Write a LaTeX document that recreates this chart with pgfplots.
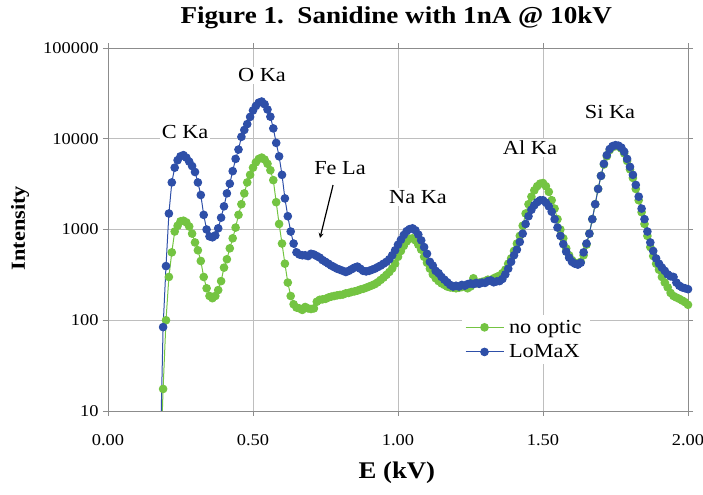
\documentclass[border=0pt]{standalone}
\usepackage{fontspec}
\setmainfont{Liberation Serif}[FakeStretch=1.12]
\usepackage{pgfplots}
\pgfplotsset{compat=1.18}
\definecolor{loblue}{RGB}{46,79,168}
\definecolor{nogreen}{RGB}{116,196,66}
\definecolor{gridgray}{RGB}{190,190,190}
\definecolor{axgray}{RGB}{140,140,140}
\newcommand{\fs}[1]{\fontsize{#1}{#1}\selectfont}
\begin{document}
\begin{tikzpicture}
\path[use as bounding box] (0,0) rectangle (703bp,495bp);
\begin{axis}[
    at={(108bp,84bp)}, anchor=south west,
    scale only axis,
    width=580bp, height=363bp,
    xmin=0, xmax=2, ymode=log, ymin=10, ymax=100000,
    xtick={0,0.5,1,1.5,2},
    xticklabels={0.00,0.50,1.00,1.50,2.00},
    ytick={10,100,1000,10000,100000},
    yticklabels={10,100,1000,10000,100000},
    yminorticks=false,
    tick align=outside,
    major tick length=5bp,
    tick style={axgray, line width=0.8bp},
    axis line style={axgray, line width=0.8bp},
    grid=major,
    major grid style={gridgray, line width=0.8bp},
    ticklabel style={font=\fs{16.5}},
    xticklabel style={yshift=-15bp},
    yticklabel style={xshift=-1bp},
    title={Figure 1.\ \ Sanidine with 1nA @ 10kV},
    title style={at={(axis description cs:0.497,1.067)}, anchor=center, font=\bfseries\fs{24.3}},
    xlabel={E (kV)},
    ylabel={Intensity},
    every axis x label/.style={at={(axis description cs:0.498,-0.17)}, anchor=center, font=\bfseries\fs{24}},
    every axis y label/.style={at={(axis description cs:-0.1517,0.504)}, rotate=90, anchor=center, font=\bfseries\fs{20}},
    legend style={at={(axis description cs:0.61,0.265)}, anchor=north west, draw=none, fill=white,
        font=\fs{20}, row sep=6bp, inner sep=3bp, nodes={inner xsep=5bp}},
    legend cell align=left,
    legend image code/.code={\draw[mark repeat=2,mark phase=2] plot coordinates {(0bp,0bp)(19bp,0bp)(38bp,0bp)};},
]
\addplot[color=nogreen, line width=1bp, mark=*, mark size=3.8bp, mark options={fill=nogreen, draw=nogreen}] coordinates {
(0.18,2) (0.19,17.5) (0.20,100) (0.21,300) (0.22,560) (0.23,950) (0.24,1100) (0.25,1230) (0.26,1250) (0.27,1200)
(0.28,1080) (0.29,900) (0.30,720) (0.31,590) (0.32,450) (0.33,300) (0.34,225) (0.35,185) (0.36,175) (0.37,185)
(0.38,215) (0.39,270) (0.40,380) (0.41,470) (0.42,620) (0.43,800) (0.44,1050) (0.45,1450) (0.46,1900) (0.47,2500)
(0.48,3300) (0.49,4000) (0.50,4800) (0.51,5500) (0.52,6000) (0.53,6200) (0.54,5900) (0.55,5300) (0.56,4500) (0.57,3500)
(0.58,2000) (0.59,1150) (0.60,700) (0.61,420) (0.62,260) (0.63,185) (0.64,150) (0.65,138) (0.66,135) (0.67,130)
(0.68,140) (0.69,135) (0.70,133) (0.71,135) (0.72,160) (0.73,168) (0.74,170) (0.75,172) (0.76,178) (0.77,182)
(0.78,185) (0.79,188) (0.80,190) (0.81,192) (0.82,198) (0.83,200) (0.84,205) (0.85,208) (0.86,212) (0.87,218)
(0.88,222) (0.89,228) (0.90,235) (0.91,242) (0.92,250) (0.93,262) (0.94,278) (0.95,295) (0.96,316) (0.97,340)
(0.98,372) (0.99,420) (1.00,500) (1.01,580) (1.02,660) (1.03,740) (1.04,790) (1.05,800) (1.06,760) (1.07,680)
(1.08,600) (1.09,500) (1.10,430) (1.11,370) (1.12,320) (1.13,290) (1.14,270) (1.15,255) (1.16,245) (1.17,235)
(1.18,230) (1.19,228) (1.20,225) (1.21,228) (1.22,232) (1.23,238) (1.24,225) (1.25,235) (1.26,290) (1.27,255)
(1.28,260) (1.29,265) (1.30,270) (1.31,280) (1.32,275) (1.33,290) (1.34,300) (1.35,310) (1.36,330) (1.37,360)
(1.38,420) (1.39,480) (1.40,580) (1.41,700) (1.42,850) (1.43,1100) (1.44,1500) (1.45,1900) (1.46,2300) (1.47,2700)
(1.48,3000) (1.49,3200) (1.50,3250) (1.51,3000) (1.52,2600) (1.53,2100) (1.54,1700) (1.55,1300) (1.56,1000) (1.57,800)
(1.58,620) (1.59,520) (1.60,460) (1.61,430) (1.62,420) (1.63,440) (1.64,520) (1.65,680) (1.66,900) (1.67,1300)
(1.68,1900) (1.69,2800) (1.70,3900) (1.71,5200) (1.72,6400) (1.73,7500) (1.74,8100) (1.75,8300) (1.76,8200) (1.77,7800)
(1.78,6900) (1.79,5700) (1.80,4600) (1.81,3700) (1.82,2800) (1.83,2100) (1.84,1550) (1.85,1150) (1.86,850) (1.87,640)
(1.88,510) (1.89,420) (1.90,360) (1.91,300) (1.92,260) (1.93,230) (1.94,200) (1.95,185) (1.96,178) (1.97,172)
(1.98,165) (1.99,158) (2.00,148)
};
\addlegendentry{no optic}
\addplot[color=loblue, line width=1bp, mark=*, mark size=3.8bp, mark options={fill=loblue, draw=loblue}] coordinates {
(0.18,3) (0.19,84) (0.20,395) (0.21,1500) (0.22,3300) (0.23,4800) (0.24,5800) (0.25,6400) (0.26,6600) (0.27,6200)
(0.28,5600) (0.29,5000) (0.30,4300) (0.31,3300) (0.32,2400) (0.33,1450) (0.34,1000) (0.35,840) (0.36,820) (0.37,860)
(0.38,1030) (0.39,1350) (0.40,1800) (0.41,2500) (0.42,3200) (0.43,4400) (0.44,6000) (0.45,7600) (0.46,10500) (0.47,12500)
(0.48,14500) (0.49,17400) (0.50,20500) (0.51,23000) (0.52,25000) (0.53,25700) (0.54,24000) (0.55,21000) (0.56,17500) (0.57,13000)
(0.58,9000) (0.59,6400) (0.60,4000) (0.61,2200) (0.62,1400) (0.63,950) (0.64,700) (0.65,560) (0.66,530) (0.67,520)
(0.68,520) (0.69,510) (0.70,540) (0.71,530) (0.72,510) (0.73,490) (0.74,460) (0.75,440) (0.76,420) (0.77,400)
(0.78,385) (0.79,370) (0.80,360) (0.81,350) (0.82,340) (0.83,350) (0.84,365) (0.85,380) (0.86,390) (0.87,370)
(0.88,350) (0.89,345) (0.90,350) (0.91,360) (0.92,370) (0.93,385) (0.94,400) (0.95,420) (0.96,440) (0.97,470)
(0.98,520) (0.99,590) (1.00,680) (1.01,770) (1.02,870) (1.03,960) (1.04,1010) (1.05,1030) (1.06,980) (1.07,880)
(1.08,760) (1.09,640) (1.10,540) (1.11,440) (1.12,400) (1.13,350) (1.14,330) (1.15,300) (1.16,280) (1.17,262)
(1.18,245) (1.19,235) (1.20,240) (1.21,235) (1.22,245) (1.23,240) (1.24,250) (1.25,255) (1.26,250) (1.27,258)
(1.28,252) (1.29,260) (1.30,258) (1.31,270) (1.32,275) (1.33,262) (1.34,268) (1.35,270) (1.36,285) (1.37,320)
(1.38,370) (1.39,440) (1.40,520) (1.41,600) (1.42,730) (1.43,900) (1.44,1150) (1.45,1400) (1.46,1650) (1.47,1850)
(1.48,2000) (1.49,2100) (1.50,2100) (1.51,1980) (1.52,1800) (1.53,1570) (1.54,1300) (1.55,1050) (1.56,850) (1.57,690)
(1.58,570) (1.59,490) (1.60,440) (1.61,420) (1.62,410) (1.63,430) (1.64,560) (1.65,700) (1.66,900) (1.67,1300)
(1.68,1900) (1.69,2800) (1.70,3900) (1.71,5300) (1.72,6600) (1.73,7700) (1.74,8300) (1.75,8500) (1.76,8400) (1.77,8000)
(1.78,7200) (1.79,6000) (1.80,4900) (1.81,4000) (1.82,3100) (1.83,2300) (1.84,1700) (1.85,1300) (1.86,950) (1.87,720)
(1.88,580) (1.89,480) (1.90,420) (1.91,380) (1.92,350) (1.93,320) (1.94,305) (1.95,300) (1.96,260) (1.97,240)
(1.98,230) (1.99,225) (2.00,220)
};
\addlegendentry{LoMaX}
\begin{scope}[every node/.style={fill=white, inner sep=2bp, font=\fs{20}}]
\node at (axis cs:0.266,11860) {C Ka};
\node at (axis cs:0.531,50100) {O Ka};
\node at (axis cs:0.80,4770) {Fe La};
\node at (axis cs:1.069,2280) {Na Ka};
\node at (axis cs:1.455,7920) {Al Ka};
\node at (axis cs:1.731,19700) {Si Ka};
\end{scope}
\draw[-stealth, line width=1.2bp, black] (axis cs:0.776,3090) -- (axis cs:0.731,805);
\end{axis}
\end{tikzpicture}
\end{document}
